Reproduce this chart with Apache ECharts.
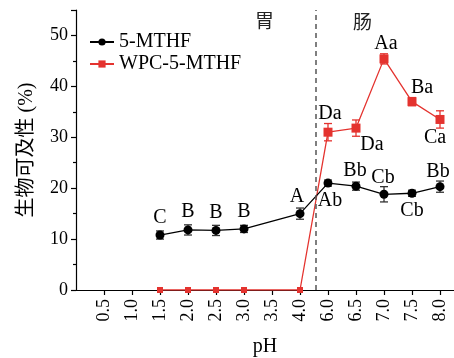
<!DOCTYPE html>
<html>
<head>
<meta charset="utf-8">
<script src="https://cdn.jsdelivr.net/npm/echarts@6/dist/echarts.min.js"></script>
<style>
html,body{margin:0;padding:0;background:#fff;}
#chart{width:454px;height:358px;}
</style>
</head>
<body>
<div id="chart"></div>
<script>
// ---- data ----
const categories = ['0.5','1.0','1.5','2.0','2.5','3.0','3.5','4.0','6.0','6.5','7.0','7.5','8.0'];
const mthfValues = [null,null,10.8,11.8,11.7,12.0,null,15.0,21.0,20.4,18.8,19.0,20.3];
const mthfErrors = [null,null,0.8,1.0,1.0,0.7,null,1.1,0.6,0.8,1.5,0.6,1.1];
const mthfLabels = [null,null,'C','B','B','B',null,'A','Ab','Bb','Cb','Cb','Bb'];
const wpcValues  = [null,null,0,0,0,0,null,0,31.0,31.8,45.4,37.0,33.5];
const wpcErrors  = [null,null,0,0,0,0,null,0,1.7,1.6,1.0,0.8,1.7];
const wpcLabels  = [null,null,'','','','',null,'','Da','Da','Aa','Ba','Ca'];
const yTicks = [0,10,20,30,40,50];
const seriesNames = ['5-MTHF','WPC-5-MTHF'];
const dividerPos = 8.56; // between pH 4.0 and 6.0
const regionLabels = ['胃','肠'];

// ---- label placement (style) ----
const mthfLabelOffset = {
  2:[0,-17],3:[0,-18],4:[0,-18],5:[0,-17],7:[-3,-17],
  8:[2,18],9:[-1,-15],10:[-1,-17],11:[0,17],12:[-2,-15]
};
const wpcLabelOffset = {8:[2,-18],9:[16,17],10:[2,-15],11:[10,-14],12:[-5,18]};

const RED = '#e4332f';
const FONT = "Liberation Serif";
const CJKFONT = "'Liberation Serif','Noto Sans CJK SC'";

function buildLine(values, labels, offsets){
  const out = [];
  values.forEach((v,i)=>{
    if(v===null) return;
    const item = {value:[i+1, v]};
    if(labels[i]){
      item.label = {show:true, formatter:labels[i], position:'inside',
        offset: offsets[i]||[0,-16], color:'#000', fontSize:20, fontFamily:FONT};
    }
    out.push(item);
  });
  return out;
}
function buildErr(values, errs){
  const out=[];
  values.forEach((v,i)=>{ if(v!==null && errs[i]>0) out.push([i+1, v, errs[i]]); });
  return out;
}
function errRender(color){
  return function(params, api){
    const x=api.value(0), y=api.value(1), e=api.value(2);
    const t=api.coord([x,y+e]), b=api.coord([x,y-e]);
    const hw=4;
    const st={stroke:color, lineWidth:1.3};
    return {type:'group', children:[
      {type:'line', shape:{x1:t[0],y1:t[1],x2:b[0],y2:b[1]}, style:st},
      {type:'line', shape:{x1:t[0]-hw,y1:t[1],x2:t[0]+hw,y2:t[1]}, style:st},
      {type:'line', shape:{x1:b[0]-hw,y1:b[1],x2:b[0]+hw,y2:b[1]}, style:st}
    ]};
  };
}
// tick labels drawn through the axis scales (serif font)
function xLabelRender(params, api){
  const p = api.coord([api.value(0), 0]);
  return {type:'text', x:p[0], y:p[1]+9, rotation:Math.PI/2,
    style:{text:categories[params.dataIndex], font:'18px "Liberation Serif"', fill:'#000',
      align:'right', verticalAlign:'middle'}};
}
function yLabelRender(params, api){
  const p = api.coord([0, api.value(1)]);
  return {type:'text', x:p[0]-8, y:p[1],
    style:{text:String(yTicks[params.dataIndex]), font:'18px "Liberation Serif"', fill:'#000',
      align:'right', verticalAlign:'middle'}};
}

const chart = echarts.init(document.getElementById('chart'), null, {renderer:'canvas'});
const xTickVals = categories.map((c,i)=>i+1);
chart.setOption({
  animation:false,
  textStyle:{fontFamily:FONT},
  grid:{left:76, right:0, top:10, bottom:68, containLabel:false, outerBoundsMode:'none'},
  legend:{
    left:84, top:26, orient:'vertical', itemGap:0, itemWidth:24, itemHeight:9,
    textStyle:{fontSize:20, fontFamily:FONT, color:'#000', lineHeight:22},
    data:seriesNames
  },
  xAxis:{
    type:'value', min:0, max:13.5, interval:1,
    name:'pH', nameLocation:'middle', nameGap:47,
    nameTextStyle:{fontSize:20, fontFamily:FONT, color:'#000'},
    axisLine:{onZero:false, lineStyle:{color:'#000', width:1.2}},
    axisTick:{show:true, length:5, lineStyle:{color:'#000', width:1.2}, customValues:xTickVals},
    axisLabel:{show:false},
    splitLine:{show:false}
  },
  yAxis:{
    type:'value', min:0, max:55, interval:10,
    name:'生物可及性 (%)', nameLocation:'middle', nameGap:39,
    nameTextStyle:{fontSize:20, fontFamily:CJKFONT, color:'#000'},
    axisLine:{show:true, lineStyle:{color:'#000', width:1.2}},
    axisTick:{show:true, length:5, lineStyle:{color:'#000', width:1.2}},
    minorTick:{show:true, splitNumber:2, length:3, lineStyle:{color:'#000', width:1.2}},
    axisLabel:{show:false},
    splitLine:{show:false}
  },
  graphic:[
    {type:'text', left:255, top:14, style:{text:regionLabels[0], fontSize:19, fontFamily:CJKFONT, fill:'#222'}},
    {type:'text', left:353, top:15, style:{text:regionLabels[1], fontSize:19, fontFamily:CJKFONT, fill:'#222'}}
  ],
  series:[
    {type:'custom', name:'xlabels', renderItem:xLabelRender, clip:false, silent:true,
      data:categories.map((c,i)=>[i+1, 0])},
    {type:'custom', name:'ylabels', renderItem:yLabelRender, clip:false, silent:true,
      data:yTicks.map(v=>[0, v])},
    {type:'custom', name:'err1', renderItem:errRender('#333'), data:buildErr(mthfValues,mthfErrors), z:1, silent:true},
    {type:'custom', name:'err2', renderItem:errRender(RED), data:buildErr(wpcValues,wpcErrors), z:1, silent:true},
    {
      name:seriesNames[1], type:'line', connectNulls:true, z:3,
      symbol:'rect', symbolSize:(val)=> val[1]===0 ? 6 : 9,
      itemStyle:{color:RED}, lineStyle:{color:RED, width:1.3},
      data:buildLine(wpcValues, wpcLabels, wpcLabelOffset),
      markLine:{
        silent:true, symbol:'none', label:{show:false},
        lineStyle:{color:'#555', type:[5,4], width:1.5},
        data:[{xAxis:dividerPos}]
      }
    },
    {
      name:seriesNames[0], type:'line', connectNulls:true, z:4,
      symbol:'circle', symbolSize:9,
      itemStyle:{color:'#000'}, lineStyle:{color:'#000', width:1.3},
      data:buildLine(mthfValues, mthfLabels, mthfLabelOffset)
    }
  ]
});
</script>
</body>
</html>
